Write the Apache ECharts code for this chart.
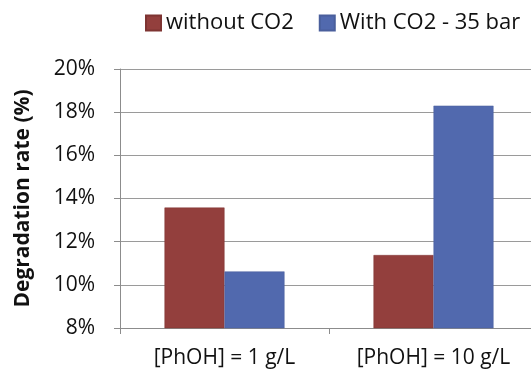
<!DOCTYPE html>
<html>
<head>
<meta charset="utf-8">
<script src="https://cdn.jsdelivr.net/npm/echarts@6/dist/echarts.min.js"></script>
<style>
  html, body { margin: 0; padding: 0; background: #fff; }
  #chart { width: 531px; height: 374px; }
</style>
</head>
<body>
<div id="chart"></div>
<script>
const categories = ['[PhOH] = 1 g/L', '[PhOH] = 10 g/L'];
const withoutCO2 = [13.58, 11.38];
const withCO2 = [10.62, 18.3];
const yTicks = { min: 8, max: 20, step: 2 };

const chart = echarts.init(document.getElementById('chart'));
const font = '"Open Sans", "Liberation Sans", sans-serif';

const option = {
  animation: false,
  textStyle: { fontFamily: font },
  legend: {
    left: 140,
    top: 7,
    itemWidth: 15,
    itemHeight: 15,
    itemGap: 25,
    icon: 'rect',
    textStyle: { fontSize: 22, color: '#111', fontFamily: font },
    data: ['without CO2', 'With CO2 - 35 bar']
  },
  // plot area runs a little past the right edge, like the original
  grid: { left: 120, top: 69, bottom: 46, width: 418, outerBoundsMode: 'none' },
  xAxis: {
    type: 'category',
    data: categories,
    axisLine: { lineStyle: { color: '#8c8c8c', width: 1 } },
    axisTick: { show: true, length: 6, lineStyle: { color: '#8c8c8c' } },
    axisLabel: { fontSize: 21, color: '#111', margin: 20, fontFamily: font }
  },
  yAxis: {
    type: 'value',
    min: yTicks.min,
    max: yTicks.max,
    interval: yTicks.step,
    name: 'Degradation rate (%)',
    nameLocation: 'middle',
    nameGap: 86,
    nameTextStyle: { fontSize: 21, fontWeight: 'bold', color: '#111', fontFamily: font },
    axisLine: { show: true, lineStyle: { color: '#8c8c8c' } },
    axisTick: { show: true, length: 6, lineStyle: { color: '#8c8c8c' } },
    axisLabel: { fontSize: 21, color: '#111', margin: 25, formatter: '{value}%', fontFamily: font },
    splitLine: { lineStyle: { color: '#9a9a9a', width: 1 } }
  },
  series: [
    {
      name: 'without CO2',
      type: 'bar',
      data: withoutCO2,
      barWidth: 60,
      barGap: '0%',
      itemStyle: { color: '#933f3d', borderColor: '#7e3432', borderWidth: 0.5 }
    },
    {
      name: 'With CO2 - 35 bar',
      type: 'bar',
      data: withCO2,
      barWidth: 60,
      barGap: '0%',
      itemStyle: { color: '#5169ae', borderColor: '#4a5f9c', borderWidth: 0.5 }
    }
  ]
};

chart.setOption(option);
</script>
</body>
</html>
